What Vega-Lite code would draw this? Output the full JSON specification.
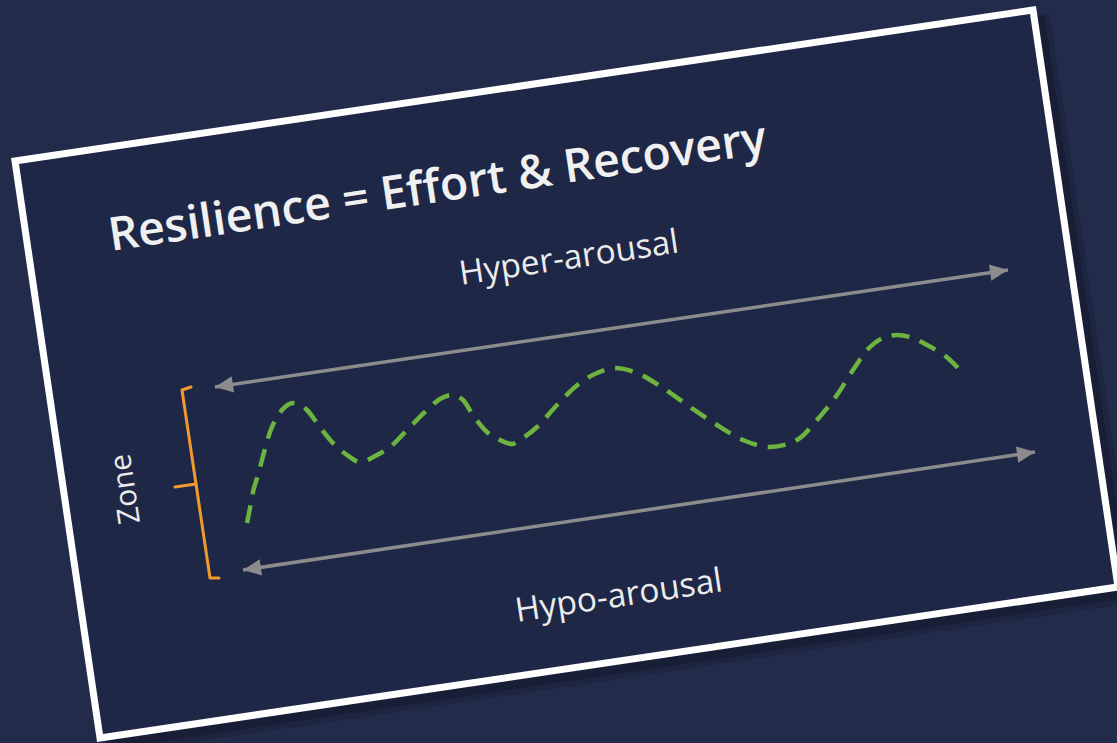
{
  "$schema": "https://vega.github.io/schema/vega-lite/v6.json",
  "width": 1117,
  "height": 743,
  "autosize": "none",
  "padding": 0,
  "background": "#232b4b",
  "config": {"view": {"stroke": null}},
  "datasets": {
    "frame": [
      {"i": 0, "x": 15, "y": 161},
      {"i": 1, "x": 1033, "y": 10},
      {"i": 2, "x": 1118, "y": 587},
      {"i": 3, "x": 100, "y": 738},
      {"i": 4, "x": 15, "y": 161}
    ],
    "shadow": [
      {"i": 0, "x": 1039, "y": 16},
      {"i": 1, "x": 1124, "y": 593},
      {"i": 2, "x": 106, "y": 744}
    ],
    "arrows": [
      {"arrow": "hyper", "end": "left", "x": 215, "y": 387},
      {"arrow": "hyper", "end": "right", "x": 1008, "y": 270},
      {"arrow": "hypo", "end": "left", "x": 243, "y": 570},
      {"arrow": "hypo", "end": "right", "x": 1035, "y": 452}
    ],
    "wave": [
      {"x": 247, "y": 523}, {"x": 250, "y": 508}, {"x": 253, "y": 492}, {"x": 258, "y": 475},
      {"x": 262, "y": 460}, {"x": 266, "y": 445}, {"x": 270, "y": 432}, {"x": 277, "y": 417},
      {"x": 285, "y": 407}, {"x": 293, "y": 403}, {"x": 300, "y": 405}, {"x": 307, "y": 410},
      {"x": 317, "y": 423}, {"x": 332, "y": 442}, {"x": 347, "y": 455}, {"x": 360, "y": 462},
      {"x": 377, "y": 455}, {"x": 390, "y": 447}, {"x": 407, "y": 430}, {"x": 427, "y": 410},
      {"x": 440, "y": 399}, {"x": 452, "y": 395}, {"x": 463, "y": 400}, {"x": 473, "y": 415},
      {"x": 487, "y": 432}, {"x": 500, "y": 440}, {"x": 512, "y": 444}, {"x": 523, "y": 438},
      {"x": 537, "y": 427}, {"x": 557, "y": 405}, {"x": 580, "y": 383}, {"x": 597, "y": 373},
      {"x": 615, "y": 368}, {"x": 637, "y": 373}, {"x": 663, "y": 388}, {"x": 690, "y": 407},
      {"x": 717, "y": 425}, {"x": 743, "y": 440}, {"x": 770, "y": 447}, {"x": 797, "y": 440},
      {"x": 817, "y": 420}, {"x": 837, "y": 395}, {"x": 853, "y": 370}, {"x": 870, "y": 347},
      {"x": 883, "y": 338}, {"x": 897, "y": 335}, {"x": 910, "y": 337}, {"x": 927, "y": 345},
      {"x": 950, "y": 360}, {"x": 958, "y": 368}
    ],
    "bracket": [
      {"part": "spine", "i": 0, "x": 191, "y": 387},
      {"part": "spine", "i": 1, "x": 182, "y": 390},
      {"part": "spine", "i": 2, "x": 210, "y": 578},
      {"part": "spine", "i": 3, "x": 219, "y": 578},
      {"part": "tick", "i": 0, "x": 196, "y": 484},
      {"part": "tick", "i": 1, "x": 175, "y": 487}
    ],
    "labels": [
      {"role": "title", "label": "Resilience = Effort & Recovery", "x": 111, "y": 251},
      {"role": "band", "label": "Hyper-arousal", "x": 461, "y": 285},
      {"role": "band", "label": "Hypo-arousal", "x": 517, "y": 622},
      {"role": "zone", "label": "Zone", "x": 126, "y": 489}
    ]
  },
  "encoding": {
    "x": {"field": "x", "type": "quantitative", "scale": {"domain": [0, 1117], "nice": false, "zero": false}, "axis": null},
    "y": {"field": "y", "type": "quantitative", "scale": {"domain": [0, 743], "reverse": true, "nice": false, "zero": false}, "axis": null}
  },
  "layer": [
    {
      "data": {"name": "shadow"},
      "mark": {"type": "line", "color": "#000000", "opacity": 0.12, "strokeWidth": 22, "strokeJoin": "round"},
      "encoding": {"order": {"field": "i"}}
    },
    {
      "data": {"name": "shadow"},
      "mark": {"type": "line", "color": "#000000", "opacity": 0.18, "strokeWidth": 11, "strokeJoin": "round"},
      "encoding": {"order": {"field": "i"}}
    },
    {
      "data": {"name": "frame"},
      "mark": {"type": "line", "color": "#ffffff", "fill": "#1f2747", "strokeWidth": 7, "strokeJoin": "miter", "strokeCap": "square"},
      "encoding": {"order": {"field": "i"}}
    },
    {
      "data": {"name": "arrows"},
      "mark": {"type": "line", "color": "#8c8c8c", "strokeWidth": 3.5},
      "encoding": {"detail": {"field": "arrow"}}
    },
    {
      "data": {"name": "arrows"},
      "transform": [{"filter": "datum.end === 'right'"}],
      "mark": {"type": "point", "shape": "M0,0L-1,-0.45L-1,0.45Z", "filled": true, "color": "#8c8c8c", "opacity": 1, "size": 1300, "angle": 351.6, "strokeWidth": 0}
    },
    {
      "data": {"name": "arrows"},
      "transform": [{"filter": "datum.end === 'left'"}],
      "mark": {"type": "point", "shape": "M0,0L1,-0.45L1,0.45Z", "filled": true, "color": "#8c8c8c", "opacity": 1, "size": 1300, "angle": 351.6, "strokeWidth": 0}
    },
    {
      "data": {"name": "wave"},
      "mark": {"type": "line", "color": "#6cb33f", "strokeWidth": 4.5, "strokeDash": [18, 11], "interpolate": "monotone"}
    },
    {
      "data": {"name": "bracket"},
      "mark": {"type": "line", "color": "#f39a2e", "strokeWidth": 3, "strokeJoin": "round", "strokeCap": "round"},
      "encoding": {"detail": {"field": "part"}, "order": {"field": "i"}}
    },
    {
      "data": {"name": "labels"},
      "transform": [{"filter": "datum.role === 'title'"}],
      "mark": {"type": "text", "font": "Open Sans", "fontWeight": 600, "fontSize": 46.5, "color": "#f0f0f0", "align": "left", "baseline": "alphabetic", "angle": 351.5},
      "encoding": {"text": {"field": "label"}}
    },
    {
      "data": {"name": "labels"},
      "transform": [{"filter": "datum.role === 'band'"}],
      "mark": {"type": "text", "font": "Open Sans", "fontSize": 33.5, "color": "#ececec", "align": "left", "baseline": "alphabetic", "angle": 351.5},
      "encoding": {"text": {"field": "label"}}
    },
    {
      "data": {"name": "labels"},
      "transform": [{"filter": "datum.role === 'zone'"}],
      "mark": {"type": "text", "font": "Open Sans", "fontSize": 30, "color": "#ececec", "align": "center", "baseline": "middle", "angle": 261.5},
      "encoding": {"text": {"field": "label"}}
    }
  ]
}
